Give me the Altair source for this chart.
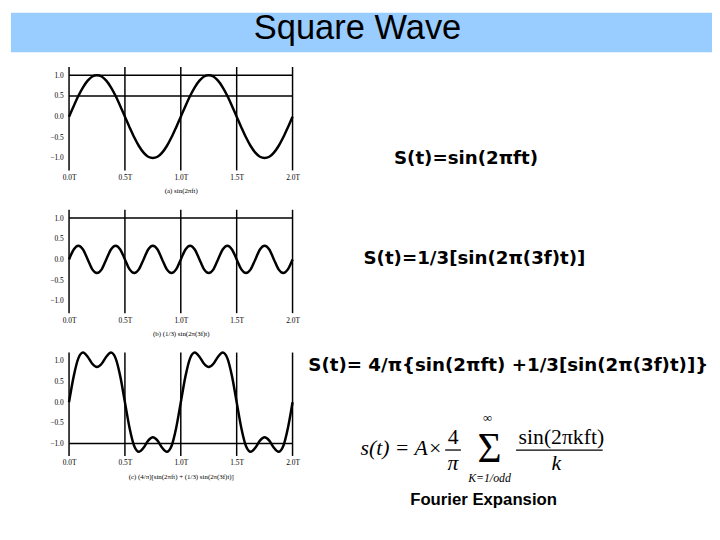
import altair as alt
import pandas as pd

# ---- data ----
t = [0, 0.042, 0.083, 0.125, 0.167, 0.208, 0.25, 0.292, 0.333, 0.375, 0.417, 0.458,
     0.5, 0.542, 0.583, 0.625, 0.667, 0.708, 0.75, 0.792, 0.833, 0.875, 0.917, 0.958,
     1.0, 1.042, 1.083, 1.125, 1.167, 1.208, 1.25, 1.292, 1.333, 1.375, 1.417, 1.458,
     1.5, 1.542, 1.583, 1.625, 1.667, 1.708, 1.75, 1.792, 1.833, 1.875, 1.917, 1.958, 2.0]

sin_f = [0, .26, .5, .71, .87, .97, 1, .97, .87, .71, .5, .26,
         0, -.26, -.5, -.71, -.87, -.97, -1, -.97, -.87, -.71, -.5, -.26,
         0, .26, .5, .71, .87, .97, 1, .97, .87, .71, .5, .26,
         0, -.26, -.5, -.71, -.87, -.97, -1, -.97, -.87, -.71, -.5, -.26, 0]

sin_3f = [0, .24, .33, .24, 0, -.24, -.33, -.24,
          0, .24, .33, .24, 0, -.24, -.33, -.24,
          0, .24, .33, .24, 0, -.24, -.33, -.24,
          0, .24, .33, .24, 0, -.24, -.33, -.24,
          0, .24, .33, .24, 0, -.24, -.33, -.24,
          0, .24, .33, .24, 0, -.24, -.33, -.24, 0]

square_sum = [0, .63, 1.06, 1.2, 1.1, .93, .85, .93, 1.1, 1.2, 1.06, .63,
              0, -.63, -1.06, -1.2, -1.1, -.93, -.85, -.93, -1.1, -1.2, -1.06, -.63,
              0, .63, 1.06, 1.2, 1.1, .93, .85, .93, 1.1, 1.2, 1.06, .63,
              0, -.63, -1.06, -1.2, -1.1, -.93, -.85, -.93, -1.1, -1.2, -1.06, -.63, 0]

x_ticks = [0.0, 0.5, 1.0, 1.5, 2.0]
y_ticks = [-1.0, -0.5, 0.0, 0.5, 1.0]
captions = ["(a) sin(2πft)",
            "(b) (1/3) sin(2π(3f)t)",
            "(c) (4/π)[sin(2πft) + (1/3) sin(2π(3f)t)]"]
equations = ["S(t)=sin(2πft)",
             "S(t)=1/3[sin(2π(3f)t)]",
             "S(t)= 4/π{sin(2πft) +1/3[sin(2π(3f)t)]}"]
hlines = [[1.0, 0.5], [1.0], [-1.0]]
title_text = "Square Wave"

PW, PH = 227, 105
SERIF = "Liberation Serif"
EQ_FONT = "DejaVu Sans"
xs = alt.Scale(domain=[0, 2], nice=False, zero=False)
ys = alt.Scale(domain=[-1.3, 1.2], nice=False, zero=False)


def txt(s, x, y, size, font=SERIF, weight="normal", style="normal", align="center",
        baseline="middle"):
    return alt.Chart(pd.DataFrame({"s": [s]})).mark_text(
        font=font, fontSize=size, fontWeight=weight, fontStyle=style, align=align,
        baseline=baseline, color="black"
    ).encode(text="s:N", x=alt.value(x), y=alt.value(y))


def hbar(x1, x2, y):
    return alt.Chart(pd.DataFrame({"s": [0]})).mark_rule(color="black", strokeWidth=1.3).encode(
        x=alt.value(x1), x2=alt.value(x2), y=alt.value(y))


def panel(vals, caption, hl, extras):
    df = pd.DataFrame({"t": t, "v": vals})
    xaxis = alt.Axis(values=x_ticks, labelExpr="format(datum.value,'.1f')+'T'",
                     domain=False, ticks=False, grid=False, title=caption,
                     labelFont=SERIF, labelFontSize=7.5, labelColor="black", labelPadding=3,
                     labelFlush=False, titleFont=SERIF, titleFontSize=7,
                     titleFontWeight="normal", titleColor="black", titlePadding=6)
    yaxis = alt.Axis(values=y_ticks, format=".1f", domain=False, ticks=False, grid=False,
                     title=None, labelFont=SERIF, labelFontSize=7.5, labelColor="black",
                     labelPadding=6)
    vr = alt.Chart(pd.DataFrame({"t": x_ticks})).mark_rule(color="black", strokeWidth=1.5).encode(
        x=alt.X("t:Q", scale=xs, axis=xaxis))
    hr = alt.Chart(pd.DataFrame({"v": hl})).mark_rule(color="black", strokeWidth=1.5).encode(
        y=alt.Y("v:Q", scale=ys, axis=yaxis))
    curve = alt.Chart(df).mark_line(color="black", strokeWidth=2.5, interpolate="monotone").encode(
        x=alt.X("t:Q", scale=xs, axis=xaxis),
        y=alt.Y("v:Q", scale=ys, axis=yaxis))
    return alt.layer(vr, hr, curve, *extras).properties(width=PW, height=PH)


# Panel 1 origin on page: (66.7, 63)
p1 = panel(sin_f, captions[0], hlines[0],
           [txt(equations[0], 330, 92, 18.5, font=EQ_FONT, weight="bold", align="left")])
# Panel 2 origin on page: (66.7, 208)
p2 = panel(sin_3f, captions[1], hlines[1],
           [txt(equations[1], 299, 49, 18.5, font=EQ_FONT, weight="bold", align="left")])
# Panel 3 origin on page: (66.7, 353)
formula = [
    txt(equations[2], 243, 13, 18.5, font=EQ_FONT, weight="bold", align="left"),
    txt("s(t) = A×", 296, 104.5, 22, style="italic", align="left", baseline="alphabetic"),
    txt("4", 390, 93, 22, baseline="alphabetic"),
    hbar(382, 398, 99),
    txt("π", 390, 119, 22, style="italic", baseline="alphabetic"),
    txt("∞", 425, 67, 13),
    txt("Σ", 427, 111, 42, baseline="alphabetic"),
    txt("K=1/odd", 427, 127, 12, style="italic"),
    txt("sin(2πkft)", 500, 93, 22, baseline="alphabetic"),
    hbar(454, 542, 99),
    txt("k", 495, 119, 22, style="italic", baseline="alphabetic"),
    txt("Fourier Expansion", 421, 150, 17, font="Liberation Sans", weight="bold"),
]
p3 = panel(square_sum, captions[2], hlines[2], formula)

one = pd.DataFrame({"s": [title_text]})
bar = alt.Chart(one).mark_rect(color="#99CCFF").encode(
    x=alt.value(0), x2=alt.value(712), y=alt.value(0), y2=alt.value(40))
ttl = alt.Chart(one).mark_text(font="Liberation Sans", fontSize=35,
                               color="black").encode(text="s:N", x=alt.value(352), y=alt.value(16))
title_chart = alt.layer(bar, ttl).properties(width=712, height=40)

spacer = alt.Chart(one).mark_point(opacity=0).encode(
    x=alt.value(0), y=alt.value(0)).properties(width=58.7, height=10)

left = alt.vconcat(p1, p2, p3, spacing=40, bounds="flush")
body = alt.hconcat(spacer, left, spacing=0, bounds="flush")
chart = alt.vconcat(title_chart, body, spacing=15, bounds="flush").properties(
    padding=0, background="white").configure_view(stroke=None)

chart.save("out.html", embed_options={"renderer": "svg", "actions": False})
